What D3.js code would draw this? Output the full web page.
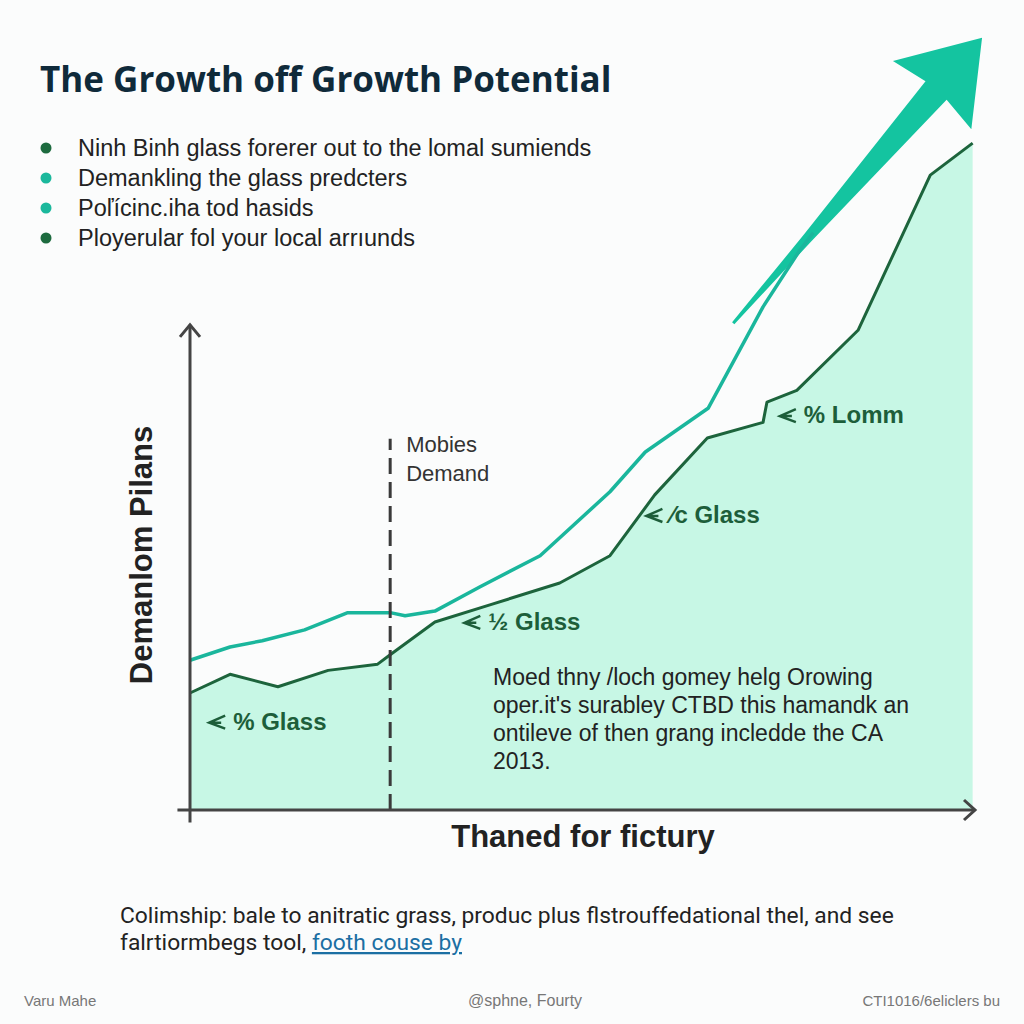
<!DOCTYPE html>
<html>
<head>
<meta charset="utf-8">
<script src="https://cdn.jsdelivr.net/npm/d3@7"></script>
<style>
  body { margin: 0; background: #fbfcfc; }
  svg { display: block; }
</style>
</head>
<body>
<script>
const w = 1024;
const h = 1024;

// demand series (period, level)
const demandX = [0, 5.1, 11.2, 17.6, 23.9, 25.5, 31.2, 38.2, 47.1, 53.5, 59.2, 65.9, 73.0, 73.5, 77.3, 85.1, 94.3, 99.7];
const demandY = [15.0, 17.4, 15.8, 17.9, 18.7, 19.9, 24.1, 26.3, 29.1, 32.6, 40.4, 47.7, 49.7, 52.3, 53.8, 61.5, 81.4, 85.5];

const growthX = [0, 5.1, 9.2, 14.6, 20.1, 25.5, 27.4, 31.2, 36.9, 44.6, 53.5, 58.0, 66.0, 73.0, 77.7, 79.4];
const growthY = [19.2, 20.9, 21.7, 23.1, 25.3, 25.3, 24.9, 25.5, 28.6, 32.6, 40.8, 45.9, 51.5, 64.5, 71.8, 74.0];

// trend arrow start / end
const trendX = [69.2, 100.9];
const trendY = [62.4, 99.0];

const markerX = 25.5;

const bullets = [
  "Ninh Binh glass forerer out to the lomal sumiends",
  "Demankling the glass predcters",
  "Poľícinc.iha tod hasids",
  "Ployerular fol your local arrıunds"
];
const bulletColors = ["#1d6b3f", "#1bb89c", "#1bb89c", "#1d6b3f"];

const noteLines = [
  "Moed thny /loch gomey helg Orowing",
  "oper.it's surabley CTBD this hamandk an",
  "ontileve of then grang incledde the CA",
  "2013."
];

const callouts = [
  { x: 5.5, y: 10.3, text: "% Glass" },
  { x: 38.0, y: 23.1, text: "½ Glass" },
  { x: 61.2, y: 36.8, text: "⁄c Glass" },
  { x: 78.2, y: 49.6, text: "% Lomm" }
];

const xScale = d3.scaleLinear().domain([0, 100]).range([190, 975]);
const yScale = d3.scaleLinear().domain([0, 100]).range([810, 30]);

const demand = demandX.map((d, i) => ({ x: d, y: demandY[i] }));
const growth = growthX.map((d, i) => ({ x: d, y: growthY[i] }));

const svg = d3.select("body")
  .append("svg")
  .attr("width", w)
  .attr("height", h)
  .style("font-family", "'Liberation Sans', Arial, sans-serif");

svg.append("rect")
  .attr("width", w)
  .attr("height", h)
  .attr("fill", "#fbfcfc");

// title
svg.append("text")
  .text("The Growth off Growth Potential")
  .attr("x", 40)
  .attr("y", 92)
  .attr("font-family", "'Open Sans', sans-serif")
  .attr("font-weight", 700)
  .attr("font-size", 35)
  .attr("fill", "#0f2a3a");

// bullets
const bl = svg.append("g");
bullets.forEach((t, i) => {
  bl.append("circle")
    .attr("cx", 46)
    .attr("cy", 148 + i * 30)
    .attr("r", 5.5)
    .attr("fill", bulletColors[i]);
  bl.append("text")
    .text(t)
    .attr("x", 78)
    .attr("y", 156 + i * 30)
    .attr("font-size", 23.5)
    .attr("fill", "#222");
});

// area + lines
const area = d3.area()
  .x(d => xScale(d.x))
  .y0(yScale(0))
  .y1(d => yScale(d.y));

svg.append("path")
  .datum(demand)
  .attr("d", area)
  .attr("fill", "#c7f7e5");

const line = d3.line()
  .x(d => xScale(d.x))
  .y(d => yScale(d.y));

// trend arrow polygon
const tx0 = xScale(trendX[0]), ty0 = yScale(trendY[0]);
const tx1 = xScale(trendX[1]), ty1 = yScale(trendY[1]);
const len = Math.hypot(tx1 - tx0, ty1 - ty0);
const ux = (tx1 - tx0) / len, uy = (ty1 - ty0) / len;
const nx = -uy, ny = ux;
const headLen = 70;
const bx = tx1 - ux * headLen, by = ty1 - uy * headLen;
const pt = (px, py, s) => [px + nx * s, py + ny * s];
const midX = tx0 + ux * len * 0.3, midY = ty0 + uy * len * 0.3;
const arrowPts = [
  pt(tx0, ty0, 1.5),
  pt(midX, midY, 5),
  pt(bx, by, 14),
  pt(bx - ux * 6, by - uy * 6, 52),
  [tx1, ty1],
  pt(bx - ux * 6, by - uy * 6, -52),
  pt(bx, by, -14),
  pt(midX, midY, -5),
  pt(tx0, ty0, -1.5)
];
svg.append("path")
  .attr("d", "M" + arrowPts.map(p => p.join(",")).join("L") + "Z")
  .attr("fill", "#14c4a0");

svg.append("path")
  .datum(growth)
  .attr("d", line)
  .attr("fill", "none")
  .attr("stroke", "#1ab69c")
  .attr("stroke-width", 3.5)
  .attr("stroke-linejoin", "round");

svg.append("path")
  .datum(demand)
  .attr("d", line)
  .attr("fill", "none")
  .attr("stroke", "#1d643c")
  .attr("stroke-width", 3)
  .attr("stroke-linejoin", "round");

// dashed marker
svg.append("line")
  .attr("x1", xScale(markerX))
  .attr("x2", xScale(markerX))
  .attr("y1", yScale(0))
  .attr("y2", yScale(47.6))
  .attr("stroke", "#3a3a3a")
  .attr("stroke-width", 3)
  .attr("stroke-dasharray", "16,8");

svg.append("text")
  .attr("x", xScale(markerX) + 16)
  .attr("y", 452)
  .attr("font-size", 22)
  .attr("fill", "#333")
  .selectAll("tspan")
  .data(["Mobies", "Demand"])
  .enter()
  .append("tspan")
  .attr("x", xScale(markerX) + 16)
  .attr("dy", (d, i) => i ? 29 : 0)
  .text(d => d);

// axes
const axisColor = "#444";
const ax = svg.append("g").attr("stroke", axisColor).attr("stroke-width", 3).attr("fill", "none");
ax.append("line")
  .attr("x1", xScale(0)).attr("x2", xScale(0))
  .attr("y1", yScale(-1.6)).attr("y2", yScale(62.2));
ax.append("path")
  .attr("d", `M${xScale(0) - 10},${yScale(62.2) + 12}L${xScale(0)},${yScale(62.2)}L${xScale(0) + 10},${yScale(62.2) + 12}`);
ax.append("line")
  .attr("x1", xScale(-1.6)).attr("x2", xScale(100))
  .attr("y1", yScale(0)).attr("y2", yScale(0));
ax.append("path")
  .attr("d", `M${xScale(100) - 11},${yScale(0) - 10}L${xScale(100)},${yScale(0)}L${xScale(100) - 11},${yScale(0) + 10}`);

svg.append("text")
  .text("Demanlom Pilans")
  .attr("transform", "translate(152,555) rotate(-90)")
  .attr("text-anchor", "middle")
  .attr("font-weight", 700)
  .attr("font-size", 31)
  .attr("fill", "#222");

svg.append("text")
  .text("Thaned for fictury")
  .attr("x", 583)
  .attr("y", 847)
  .attr("text-anchor", "middle")
  .attr("font-weight", 700)
  .attr("font-size", 31)
  .attr("fill", "#222");

// callouts
const cg = svg.append("g");
callouts.forEach(c => {
  const cx = xScale(c.x), cy = yScale(c.y);
  cg.append("path")
    .attr("d", `M${cx - 8},${cy - 14}L${cx - 24},${cy - 7}L${cx - 8},${cy - 1}M${cx - 24},${cy - 7}L${cx - 12},${cy - 7}`)
    .attr("fill", "none")
    .attr("stroke", "#1d5e3a")
    .attr("stroke-width", 2.5);
  cg.append("text")
    .text(c.text)
    .attr("x", cx)
    .attr("y", cy)
    .attr("font-weight", 700)
    .attr("font-size", 24)
    .attr("fill", "#1d5e3a");
});

// note
noteLines.forEach((t, i) => {
  svg.append("text")
    .text(t)
    .attr("x", 493)
    .attr("y", 685 + i * 28)
    .attr("font-size", 23)
    .attr("fill", "#222");
});

// footer
svg.append("text")
  .text("Colimship: bale to anitratic grass, produc plus flstrouffedational thel, and see")
  .attr("x", 120)
  .attr("y", 923)
  .attr("font-family", "Roboto, sans-serif")
  .attr("font-size", 22.8)
  .attr("fill", "#222");
const f2 = svg.append("text")
  .attr("x", 120)
  .attr("y", 950)
  .attr("font-family", "Roboto, sans-serif")
  .attr("font-size", 22.8)
  .attr("fill", "#222");
f2.append("tspan").text("falrtiormbegs tool, ");
f2.append("tspan").text("footh couse by").attr("fill", "#1b6fa3").attr("text-decoration", "underline");

svg.append("text").text("Varu Mahe")
  .attr("x", 24).attr("y", 1006).attr("font-size", 15).attr("fill", "#777");
svg.append("text").text("@sphne, Fourty")
  .attr("x", 468).attr("y", 1006).attr("font-size", 16).attr("fill", "#777");
svg.append("text").text("CTI1016/6eliclers bu")
  .attr("x", 1000).attr("y", 1006).attr("text-anchor", "end").attr("font-size", 15).attr("fill", "#777");
</script>
</body>
</html>
